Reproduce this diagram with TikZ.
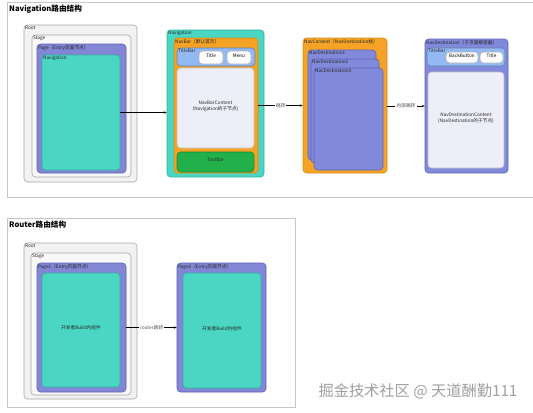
\documentclass[tikz,border=0pt]{standalone}
\usepackage{fontspec}
\setmainfont{Noto Sans CJK SC}
\usepackage{xcolor}
\usepackage{tikz}
\usetikzlibrary{positioning, fit, calc, arrows.meta}

\definecolor{rootgray}{HTML}{F2F2F2}
\definecolor{stagegray}{HTML}{F8F8F8}
\definecolor{pagepurple}{HTML}{8286D4}
\definecolor{pageedge}{HTML}{5F63B8}
\definecolor{tealfill}{HTML}{4AD6C2}
\definecolor{tealedge}{HTML}{2FB3A2}
\definecolor{navorange}{HTML}{F4A326}
\definecolor{orangeedge}{HTML}{D98A12}
\definecolor{barblue}{HTML}{92B9F2}
\definecolor{contentlight}{HTML}{EEEEF9}
\definecolor{toolgreen}{HTML}{22B04B}
\definecolor{greenedge}{HTML}{138A35}
\definecolor{destpurple}{HTML}{8189DA}

\begin{document}
\begin{tikzpicture}[x=0.03cm, y=-0.03cm,
  box/.style={rectangle, draw=gray!70, rounded corners=3pt, inner sep=0pt, line width=0.5pt},
  btn/.style={box, fill=white, draw=gray!60, rounded corners=3pt, font=\fontsize{4}{5}\selectfont},
  tag/.style={anchor=north west, inner sep=1pt, font=\fontsize{4}{5}\selectfont, text=black!85},
  txt/.style={align=center, font=\fontsize{4}{5}\selectfont, text=black!85},
  panel/.style={rectangle, draw=gray!45, fill=white, line width=0.7pt, inner sep=0pt},
  heading/.style={anchor=west, inner sep=0pt, font=\fontsize{6.5}{7}\selectfont\bfseries},
  link/.style={-{Stealth[length=2.5pt, width=2pt]}, line width=0.4pt},
  linklabel/.style={fill=white, inner sep=1pt, font=\fontsize{4}{5}\selectfont, text=black!70}]
\useasboundingbox (0,0) rectangle (533,412);

% Navigation panel
\node[panel, fit={(7,2) (560,197)}] (navpanel) {};
\node[heading] (navtitle) at (9,9) {Navigation路由结构};

\node[box, fill=rootgray, fit={(24,25) (137,182)}] (root) {};
\node[tag] at (root.north west) {Root};
\node[box, fill=stagegray, fit={(32,35) (131,177)}] (stage) {};
\node[tag] at (stage.north west) {Stage};
\node[box, fill=pagepurple, draw=pageedge, fit={(37,44) (126,173)}] (page) {};
\node[tag] at (page.north west) {Page（Entry页面节点）};
\node[box, fill=tealfill, draw=tealedge, fit={(42,55) (120,170)}] (navi) {};
\node[tag] at (navi.north west) {Navigation};

\node[box, fill=tealfill, draw=tealedge, fit={(167,30) (264,177)}] (navroot) {};
\node[tag] at (navroot.north west) {Navigation};
\node[box, fill=navorange, draw=orangeedge, fit={(174,38) (258,173)}] (navbar) {};
\node[tag] at (navbar.north west) {NavBar（默认首页）};
\node[box, fill=barblue, draw=barblue!70!black, fit={(177,48) (255,66)}] (titlebar) {};
\node[tag] at (titlebar.north west) {TitleBar};
\node[btn, fit={(199,51) (223,64)}] (title) {Title};
\node[btn, fit={(227,51) (251,64)}] (menu) {Menu};
\node[box, fill=contentlight, draw=gray!50, fit={(177,68) (254,148)}, txt] (barcontent) {NavBarContent\\(Navigation的子节点)};
\node[box, fill=toolgreen, draw=greenedge, fit={(177,152) (254,172)}, txt] (toolbar) {Toolbar};

\node[box, fill=navorange, draw=orangeedge, fit={(303,38) (387,173)}] (navcontent) {};
\node[tag] at (navcontent.north west) {NavContent（NavDestination栈）};
\node[box, fill=destpurple, draw=pageedge, fit={(308,50) (376,160)}] (dest1) {};
\node[tag] at (dest1.north west) {NavDestination1};
\node[box, fill=destpurple, draw=pageedge, fit={(311,59) (379,163)}] (dest2) {};
\node[tag] at (dest2.north west) {NavDestination2};
\node[box, fill=destpurple, draw=pageedge, fit={(314,68) (383,170)}] (dest3) {};
\node[tag] at (dest3.north west) {NavDestination3};

\node[box, fill=destpurple, draw=pageedge, fit={(425,39) (508,173)}] (navdest) {};
\node[tag] at (navdest.north west) {NavDestination（子页面根容器）};
\node[box, fill=barblue, draw=barblue!70!black, fit={(427,48) (505,66)}] (desttitlebar) {};
\node[tag] at (desttitlebar.north west) {TitleBar};
\node[btn, fit={(446,52) (478,63)}] (backbtn) {BackButton};
\node[btn, fit={(480,52) (503,63)}] (desttitle) {Title};
\node[box, fill=contentlight, draw=gray!50, fit={(428,72) (504,168)}, txt] (destcontent) {NavDestinationContent\\(NavDestination的子节点)};

\draw[link] (navi.east) -- (navi.east -| navroot.west);
\draw[link] (navbar.east |- navcontent.west) -- node[linklabel] {跳转} (navcontent.west);
\draw[link] (navcontent.east |- navdest.west) -- node[linklabel] {内部跳转} (navdest.west);

% Router panel
\node[panel, fit={(7,218) (295,407)}] (routerpanel) {};
\node[heading] (routertitle) at (9,225) {Router路由结构};

\node[box, fill=rootgray, fit={(24,243) (137,399)}] (root2) {};
\node[tag] at (root2.north west) {Root};
\node[box, fill=stagegray, fit={(31,253) (131,395)}] (stage2) {};
\node[tag] at (stage2.north west) {Stage};
\node[box, fill=pagepurple, draw=pageedge, fit={(37,263) (126,392)}] (page1) {};
\node[tag] at (page1.north west) {Page1（Entry页面节点）};
\node[box, fill=tealfill, draw=tealedge, fit={(42,273) (120,387)}, txt] (build1) {开发者Build内组件};

\node[box, fill=pagepurple, draw=pageedge, fit={(177,263) (266,392)}] (page2) {};
\node[tag] at (page2.north west) {Page2（Entry页面节点）};
\node[box, fill=tealfill, draw=tealedge, fit={(183,273) (261,388)}, txt] (build2) {开发者Build内组件};

\draw[link] (page1.east |- page2.west) -- node[linklabel] {router跳转} (page2.west);

\node[font=\fontsize{13}{15}\selectfont, text=gray!75] (mark) at (418,391) {掘金技术社区 @ 天道酬勤111};
\end{tikzpicture}
\end{document}
